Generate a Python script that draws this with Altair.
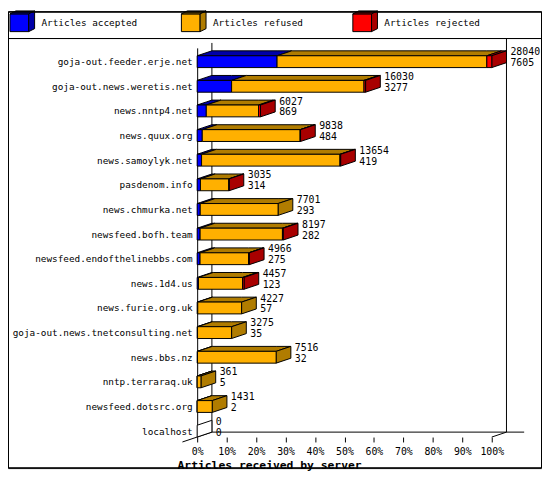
import json

import altair as alt
import pandas as pd

# articles offered to each peer, split by what happened to them
SERVERS = [
    "goja-out.feeder.erje.net",
    "goja-out.news.weretis.net",
    "news.nntp4.net",
    "news.quux.org",
    "news.samoylyk.net",
    "pasdenom.info",
    "news.chmurka.net",
    "newsfeed.bofh.team",
    "newsfeed.endofthelinebbs.com",
    "news.1d4.us",
    "news.furie.org.uk",
    "goja-out.news.tnetconsulting.net",
    "news.bbs.nz",
    "nntp.terraraq.uk",
    "newsfeed.dotsrc.org",
    "localhost",
]
ACCEPTED = [7605, 3277, 869, 484, 419, 314, 293, 282, 275, 123, 57, 35, 32, 5, 2, 0]
REFUSED = [19965, 12603, 4978, 9314, 13175, 2701, 7408, 7835, 4621, 4194, 4170, 3240, 7484, 356, 1429, 0]
REJECTED = [470, 150, 180, 40, 60, 20, 0, 80, 70, 140, 0, 0, 0, 0, 0, 0]
KINDS = ["accepted", "refused", "rejected"]
LEGEND = ["Articles accepted", "Articles refused", "Articles rejected"]
TICKS = list(range(0, 101, 10))

FONT = "DejaVu Sans Mono"
FRONT = {"accepted": "#0000ff", "refused": "#ffb000", "rejected": "#ff0000"}
SHADE = {"accepted": "#0000a8", "refused": "#b07c00", "rejected": "#a80000"}

W, H = 542, 464
DX = 5.0     # depth of the boxes along x, in %
DY = 0.2     # depth of the boxes along y, in rows
HALF = 0.24  # half height of a bar front, in rows
Y_TOP, Y_BOTTOM = -0.56, 15.24

X_SCALE = alt.Scale(domain=[0, 100], range=[192, 491], nice=False, zero=False)
Y_SCALE = alt.Scale(domain=[Y_TOP, Y_BOTTOM], range=[37, 432], nice=False, zero=False)


def build_tables():
    counts = list(zip(ACCEPTED, REFUSED, REJECTED))
    biggest = max(sum(c) for c in counts)
    fronts, faces, labels = [], [], []
    for i, row in enumerate(counts):
        y_top, y_bot = i - HALF, i + HALF
        done, last = 0, None
        for kind, n in zip(KINDS, row):
            if n == 0:
                continue
            x0 = 100.0 * done / biggest
            x1 = 100.0 * (done + n) / biggest
            done += n
            fronts.append({"x": x0, "x2": x1, "y": y_top, "y2": y_bot, "fill": FRONT[kind]})
            # top face: a parallelogram, drawn as an area between two edges
            for x in sorted({x0, x1, x0 + DX, x1 + DX}):
                lo = y_top if x <= x1 else y_top - (x - x1) * DY / DX
                hi = y_top - min(x - x0, DX) * DY / DX
                faces.append({"key": f"{i}-{kind}", "x": x, "lo": lo, "hi": hi, "fill": SHADE[kind]})
            last = kind
        end = 100.0 * done / biggest
        side = SHADE[last] if last else "white"
        faces.append({"key": f"{i}-side", "x": end, "lo": y_bot, "hi": y_top, "fill": side})
        faces.append({"key": f"{i}-side", "x": end + DX, "lo": y_bot - DY, "hi": y_top - DY, "fill": side})
        labels.append({"x": end + DX, "y": i, "total": done, "accepted": row[0]})
    return pd.DataFrame(fronts), pd.DataFrame(faces), pd.DataFrame(labels)


fronts, faces, labels = build_tables()

floor = Y_BOTTOM - DY
frame = pd.DataFrame([
    {"x": DX, "x2": DX, "y": Y_TOP - DY, "y2": floor},
    {"x": 100 + DX, "x2": 100 + DX, "y": Y_TOP - 2 * DY, "y2": floor},
    {"x": DX, "x2": 111, "y": floor, "y2": floor},
    {"x": -DX, "x2": DX, "y": Y_BOTTOM + DY, "y2": floor},
    {"x": 100, "x2": 100 + DX, "y": Y_BOTTOM, "y2": floor},
])

x_axis = alt.Axis(
    values=TICKS, labelExpr="datum.value + '%'", offset=-32,
    domain=False, grid=False, tickSize=5, tickColor="black",
    labelFont=FONT, labelFontSize=10, labelColor="black", labelPadding=5,
    labelFlush=False, labelOverlap=False,
    title="Articles received by server", titleFont=FONT, titleFontSize=11.5,
    titleFontWeight="bold", titleColor="black", titleX=265, titleY=29,
    titleAlign="center", titleBaseline="middle",
)
y_axis = alt.Axis(
    values=list(range(len(SERVERS))), labelExpr=f"{json.dumps(SERVERS)}[datum.value]",
    title="", offset=-192, grid=False, ticks=False, tickSize=0,
    domainColor="black", domainWidth=1,
    labelFont=FONT, labelFontSize=9.5, labelColor="black", labelPadding=5,
    labelLimit=260, labelOverlap=False, labelBaseline="middle",
)


def pos(x, y):
    return {
        "x": alt.X(f"{x}:Q", scale=X_SCALE, axis=x_axis),
        "y": alt.Y(f"{y}:Q", scale=Y_SCALE, axis=y_axis, stack=None),
    }


walls = alt.Chart(frame).mark_rule(color="black", strokeWidth=1).encode(
    **pos("x", "y"), x2="x2:Q", y2="y2:Q"
)

tops = alt.Chart(faces).mark_area(orient="vertical", stroke="black", strokeWidth=1, opacity=1).encode(
    **pos("x", "lo"), y2="hi:Q",
    fill=alt.Fill("fill:N", scale=None),
    detail="key:N",
)

bars = alt.Chart(fronts).mark_rect(stroke="black", strokeWidth=1).encode(
    **pos("x", "y"), x2="x2:Q", y2="y2:Q",
    fill=alt.Fill("fill:N", scale=None),
)

total_text = alt.Chart(labels).mark_text(
    font=FONT, fontSize=10, align="left", baseline="middle", color="black", dx=4, dy=-9.5
).encode(**pos("x", "y"), text=alt.Text("total:Q", format="d"))
accepted_text = alt.Chart(labels).mark_text(
    font=FONT, fontSize=10, align="left", baseline="middle", color="black", dx=4, dy=1.5
).encode(**pos("x", "y"), text=alt.Text("accepted:Q", format="d"))

main = alt.layer(walls, tops, bars, total_text, accepted_text)

# legend row with little cubes
legend_df = pd.DataFrame({
    "label": LEGEND,
    "front": [FRONT[k] for k in KINDS],
    "shade": [SHADE[k] for k in KINDS],
})
legend_x = alt.X(
    "label:N", sort=LEGEND, axis=None,
    scale=alt.Scale(type="point", domain=LEGEND, range=[2, 350], padding=0),
)


def cube_face(path, column):
    return alt.Chart(legend_df).mark_point(
        shape=path, size=4, filled=True, opacity=1, stroke="black", strokeWidth=1
    ).encode(x=legend_x, y=alt.value(11.5), fill=alt.Fill(f"{column}:N", scale=None))


legend = alt.layer(
    cube_face("M0,-9H19V9H0Z", "front"),
    cube_face("M0,-9L6,-12H25L19,-9Z", "shade"),
    cube_face("M19,-9L25,-12V6L19,9Z", "shade"),
    alt.Chart(legend_df).mark_text(
        font=FONT, fontSize=9.5, align="left", baseline="middle", color="black", dx=32
    ).encode(x=legend_x, y=alt.value(12), text="label:N"),
    alt.Chart(legend_df).mark_rule(color="black", strokeWidth=1).encode(
        x=alt.value(0), x2=alt.value(W), y=alt.value(27.5)
    ),
    # outer frame of the picture
    alt.Chart(legend_df).mark_rect(fill="transparent", stroke="black", strokeWidth=1).encode(
        x=alt.value(0.5), x2=alt.value(W - 0.5), y=alt.value(0.5), y2=alt.value(H - 0.5)
    ),
)

chart = alt.layer(main, legend).resolve_scale(x="independent").properties(
    width=W, height=H, autosize="none", padding=0
).configure_view(strokeWidth=0).configure(background="white")

chart.save("out.html", embed_options={"renderer": "svg", "actions": False})
